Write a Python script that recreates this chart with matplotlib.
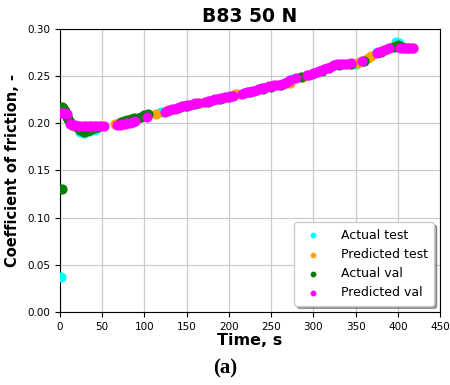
import numpy as np
import matplotlib
matplotlib.use('Agg')
import matplotlib.pyplot as plt

''' data read off the reference
'''
t_act_test = [1, 24, 28, 34, 42, 70, 120, 145, 180, 200, 235, 275, 300, 325, 350, 375, 398, 401]
c_act_test = [0.037, 0.191, 0.190, 0.192, 0.193, 0.200, 0.212, 0.218, 0.225, 0.229, 0.236,
              0.247, 0.253, 0.262, 0.263, 0.275, 0.286, 0.285]

t_pred_test = [3, 16, 22, 26, 65, 114, 128, 166, 207, 210, 268, 272, 288, 300, 343, 352, 355,
               365, 368, 393, 398, 402, 410, 418]
c_pred_test = [0.212, 0.197, 0.196, 0.195, 0.199, 0.210, 0.214, 0.221, 0.231, 0.231, 0.243,
               0.243, 0.249, 0.253, 0.263, 0.264, 0.265, 0.269, 0.271, 0.281, 0.282, 0.281,
               0.280, 0.280]

t_act_val = [0, 2, 2, 4, 6, 8, 10, 12, 20, 24, 28, 32, 36, 40, 45, 72, 76, 80, 84, 88, 92, 96,
             100, 104, 140, 150, 160, 175, 190, 200, 225, 240, 250, 262, 285, 310, 330, 345,
             360, 380, 395, 400, 405, 412]
c_act_val = [0.216, 0.217, 0.130, 0.216, 0.213, 0.207, 0.204, 0.201, 0.196, 0.193, 0.191,
             0.192, 0.193, 0.195, 0.196, 0.201, 0.202, 0.203, 0.204, 0.205, 0.206, 0.207,
             0.209, 0.210, 0.216, 0.218, 0.220, 0.223, 0.226, 0.228, 0.233, 0.236, 0.238,
             0.240, 0.249, 0.255, 0.262, 0.263, 0.266, 0.275, 0.281, 0.283, 0.281, 0.280]

t_pred_val = [0, 2, 4, 6, 8, 12, 15, 18, 21, 24, 28, 31, 34, 37, 40, 43, 46, 49, 52,
              68, 71, 74, 77, 80, 83, 86, 89, 103,
              124, 127, 130, 133, 136, 139, 142, 145, 148, 151, 154, 157, 160, 163,
              172, 175, 178, 181, 184, 187, 190, 193, 196, 199, 202, 205,
              215, 218, 221, 224, 227, 230, 233, 236, 239, 242, 245, 248, 251, 254, 257,
              260, 263, 266, 269, 272, 280,
              292, 295, 298, 301, 304, 307, 310, 313, 316, 319, 322, 325,
              328, 331, 334, 337, 340, 345, 357,
              375, 378, 381, 384, 387, 390, 403, 406, 409, 412, 415, 418]
c_pred_val = [0.211, 0.211, 0.211, 0.211, 0.210, 0.199, 0.198, 0.198, 0.197, 0.197,
              0.197, 0.197, 0.197, 0.197, 0.197, 0.197, 0.197, 0.197, 0.197,
              0.198, 0.198, 0.199, 0.199, 0.200, 0.200, 0.201, 0.202, 0.207,
              0.212, 0.213, 0.214, 0.215, 0.215, 0.216, 0.217, 0.218, 0.218, 0.219, 0.219,
              0.220, 0.221, 0.221,
              0.223, 0.224, 0.224, 0.225, 0.226, 0.226, 0.227, 0.227, 0.228, 0.228, 0.229,
              0.229,
              0.231, 0.232, 0.233, 0.233, 0.234, 0.234, 0.235, 0.236, 0.237, 0.237, 0.238,
              0.239, 0.239, 0.240, 0.240, 0.241, 0.242, 0.243, 0.244, 0.246, 0.248,
              0.251, 0.251, 0.252, 0.253, 0.254, 0.255, 0.256, 0.257, 0.258, 0.259, 0.261,
              0.262,
              0.263, 0.263, 0.263, 0.263, 0.263, 0.264, 0.266,
              0.274, 0.275, 0.277, 0.278, 0.279, 0.280, 0.280, 0.280, 0.280, 0.280, 0.280,
              0.280]

series = [
  (t_act_test, c_act_test, 'cyan', 'Actual test'),
  (t_pred_test, c_pred_test, 'orange', 'Predicted test'),
  (t_act_val, c_act_val, 'green', 'Actual val'),
  (t_pred_val, c_pred_val, 'magenta', 'Predicted val'),
]

fig = plt.figure(figsize=(4.5, 3.85), dpi=100)
ax = fig.add_axes([0.133, 0.19, 0.845, 0.735])

for t, c, col, lab in series:
  ax.scatter(t, c, s=40, color=col, label=lab, zorder=3)

ax.set_xlim(0, 450)
ax.set_ylim(0.0, 0.30)
ax.set_xticks(np.arange(0, 451, 50))
ax.set_yticks(np.arange(0, 0.301, 0.05))
ax.tick_params(labelsize=7.5)
ax.grid(True, color='#cccccc', linewidth=0.9)
ax.set_axisbelow(True)

ax.set_title('B83 50 N', fontsize=13.5, fontweight='bold', pad=5)
ax.set_xlabel('Time, s', fontsize=11.5, fontweight='bold', labelpad=1)
ax.set_ylabel('Coefficient of friction, -', fontsize=10.5, fontweight='bold', labelpad=5)
ax.legend(loc='lower right', shadow=True, markerscale=0.5, fontsize=9,
          borderpad=0.5, handletextpad=1.2, framealpha=1)

fig.text(0.5, 0.03, '(a)', ha='center', fontsize=15, fontweight='bold',
         family='Liberation Serif')

plt.savefig('out.png', dpi=100)
